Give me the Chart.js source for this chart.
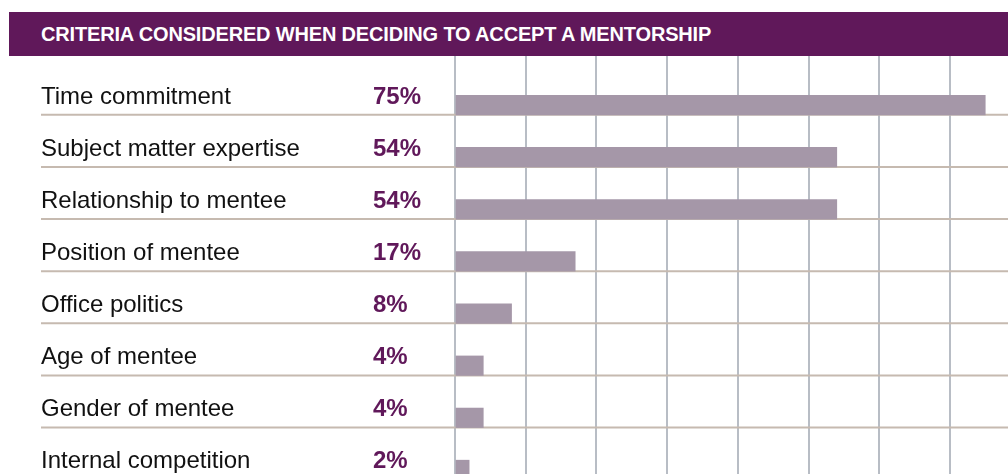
<!DOCTYPE html>
<html>
<head>
<meta charset="utf-8">
<script src="https://cdn.jsdelivr.net/npm/chart.js@4.4.1/dist/chart.umd.min.js"></script>
<style>
  html, body {
    margin: 0;
    padding: 0;
    width: 1008px;
    height: 474px;
    overflow: hidden;
    background: #fff;
  }
  #wrap {
    position: absolute;
    left: 0;
    top: 0;
    width: 1170px;
    height: 500px;
  }
  .banner {
    position: absolute;
    left: 9px;
    top: 12px;
    width: 1000px;
    height: 44px;
    background: #60185a;
    color: #fff;
    font-family: "Liberation Sans Narrow", "Arial Narrow", "Liberation Sans", Arial, sans-serif;
    font-weight: bold;
    font-size: 20px;
    letter-spacing: -0.17px;
    line-height: 44px;
    padding-left: 32px;
    box-sizing: border-box;
    white-space: nowrap;
  }
</style>
</head>
<body>
<div id="wrap">
  <canvas id="chart" width="1170" height="500"></canvas>
</div>
<div class="banner">CRITERIA CONSIDERED WHEN DECIDING TO ACCEPT A MENTORSHIP</div>
<script>
const categories = [
    'Time commitment',
    'Subject matter expertise',
    'Relationship to mentee',
    'Position of mentee',
    'Office politics',
    'Age of mentee',
    'Gender of mentee',
    'Internal competition',
];
const shares = [75, 54, 54, 17, 8, 4, 4, 2];

const BAR_COLOR = '#a597a8';
const ACCENT = '#60185a';
const BAR_THICK = 19.5;

// row labels, percentages and the thin rules under each row
const rowDecor = {
    id: 'rowDecor',
    beforeDatasetsDraw(chart) {
        const { ctx, scales: { y } } = chart;
        ctx.save();
        ctx.strokeStyle = '#c6bab0';
        ctx.lineWidth = 2;
        categories.forEach((c, i) => {
            const yy = y.getPixelForValue(i) + BAR_THICK / 2;
            ctx.beginPath();
            ctx.moveTo(41, yy);
            ctx.lineTo(chart.width, yy);
            ctx.stroke();
        });
        ctx.restore();
    },
    afterDraw(chart) {
        const { ctx, scales: { y } } = chart;
        ctx.save();
        ctx.textBaseline = 'alphabetic';
        ctx.textAlign = 'left';
        categories.forEach((c, i) => {
            const base = y.getPixelForValue(i) - 1.5;
            ctx.font = '24px "Liberation Sans", Arial, sans-serif';
            ctx.fillStyle = '#111';
            ctx.fillText(c, 41, base);
            ctx.font = 'bold 24px "Liberation Sans", Arial, sans-serif';
            ctx.fillStyle = ACCENT;
            ctx.fillText(shares[i] + '%', 373, base);
        });
        ctx.restore();
    }
};

new Chart(document.getElementById('chart').getContext('2d'), {
    type: 'bar',
    data: {
        labels: categories,
        datasets: [{
            data: shares,
            backgroundColor: BAR_COLOR,
            borderWidth: 0,
            barThickness: BAR_THICK,
        }]
    },
    options: {
        indexAxis: 'y',
        responsive: false,
        animation: false,
        layout: { padding: { left: 455, right: 8, top: 56, bottom: 4 } },
        scales: {
            x: {
                position: 'top',
                min: 0,
                max: 100,
                z: 1,
                ticks: { display: false, stepSize: 10 },
                grid: {
                    color: '#b8bdc5',
                    lineWidth: 2,
                    drawTicks: true,
                    tickLength: 23,
                },
                border: { display: false },
            },
            y: {
                display: false,
            }
        },
        plugins: {
            legend: { display: false },
            tooltip: { enabled: false },
        }
    },
    plugins: [rowDecor]
});
</script>
</body>
</html>
